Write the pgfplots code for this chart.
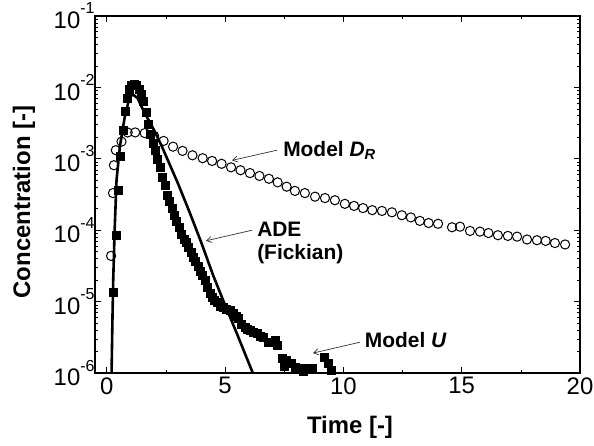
\documentclass[border=0pt]{standalone}
\usepackage{fontspec}
\setmainfont{Liberation Sans}
\usepackage{pgfplots}
\pgfplotsset{compat=1.18}
\usetikzlibrary{arrows.meta}
\newcommand{\dec}[1]{10\raisebox{0.62em}{\fontsize{16}{16}\selectfont #1}}

% model D_R (open circles)
\pgfplotstableread{
t C
0.18 4.37e-5
0.26 3.31e-4
0.30 8.13e-4
0.38 1.32e-3
0.62 1.74e-3
0.88 2.34e-3
1.20 2.34e-3
1.60 2.29e-3
2.00 2.09e-3
2.40 1.78e-3
2.80 1.48e-3
3.20 1.29e-3
3.62 1.12e-3
4.05 1.02e-3
4.45 9.33e-4
4.85 8.51e-4
5.25 7.59e-4
5.65 6.92e-4
6.05 6.31e-4
6.45 5.75e-4
6.85 5.25e-4
7.22 4.68e-4
7.60 4.07e-4
7.95 3.55e-4
8.37 3.31e-4
8.80 2.95e-4
9.22 2.82e-4
9.64 2.63e-4
10.06 2.34e-4
10.45 2.19e-4
10.83 2.04e-4
11.22 1.91e-4
11.63 1.86e-4
12.05 1.78e-4
12.47 1.62e-4
12.85 1.51e-4
13.23 1.35e-4
13.60 1.26e-4
14.00 1.23e-4
14.59 1.10e-4
14.93 1.12e-4
15.35 9.77e-5
15.77 9.55e-5
16.13 9.12e-5
16.53 8.51e-5
16.95 8.32e-5
17.34 8.13e-5
17.76 7.41e-5
18.18 7.24e-5
18.55 7.08e-5
18.94 6.61e-5
19.37 6.31e-5
}\dataDR

% model U (filled squares)
\pgfplotstableread{
t C
0.25 1.35e-5
0.38 8.51e-5
0.50 3.63e-4
0.55 1.10e-3
0.68 2.51e-3
0.76 4.57e-3
0.85 7.08e-3
0.95 9.55e-3
1.05 1.07e-2
1.15 1.12e-2
1.25 1.07e-2
1.35 9.55e-3
1.45 8.13e-3
1.55 6.31e-3
1.65 4.47e-3
1.75 3.02e-3
1.85 2.24e-3
1.95 1.66e-3
2.05 1.32e-3
2.15 1.00e-3
2.25 7.59e-4
2.35 5.50e-4
2.45 4.27e-4
2.55 3.09e-4
2.65 2.51e-4
2.75 2.04e-4
2.85 1.62e-4
2.95 1.35e-4
3.05 1.10e-4
3.15 8.91e-5
3.25 7.59e-5
3.35 6.76e-5
3.45 5.75e-5
3.55 4.90e-5
3.65 4.17e-5
3.75 3.63e-5
3.85 3.16e-5
3.95 2.63e-5
4.05 2.34e-5
4.15 2.00e-5
4.25 1.58e-5
4.35 1.32e-5
4.45 1.15e-5
4.55 1.05e-5
4.65 9.77e-6
4.80 8.71e-6
4.90 8.32e-6
5.05 7.94e-6
5.20 7.59e-6
5.33 6.92e-6
5.45 6.31e-6
5.54 5.89e-6
5.70 4.79e-6
5.84 4.37e-6
5.95 4.17e-6
6.05 3.98e-6
6.20 3.72e-6
6.34 3.63e-6
6.50 3.31e-6
6.60 3.16e-6
6.80 2.69e-6
7.10 2.88e-6
7.19 2.45e-6
7.40 1.62e-6
7.50 1.26e-6
7.60 1.51e-6
7.80 1.38e-6
7.95 1.20e-6
8.16 1.17e-6
8.30 1.05e-6
8.46 1.17e-6
8.70 1.17e-6
9.20 1.66e-6
9.35 1.38e-6
9.50 1.10e-6
10.80 9.33e-7
}\dataU

% ADE (Fickian), solid line
\pgfplotstableread{
t C
0.20 1.0e-6
0.24 6.3e-6
0.27 2.0e-5
0.33 1.0e-4
0.41 5.0e-4
0.55 1.48e-3
0.76 3.89e-3
0.97 7.41e-3
1.10 7.94e-3
1.30 7.08e-3
1.60 4.37e-3
2.00 2.51e-3
2.33 1.48e-3
3.00 4.57e-4
3.50 1.78e-4
4.00 6.61e-5
4.48 2.40e-5
5.00 8.91e-6
5.50 3.55e-6
6.17 1.0e-6
6.30 7.5e-7
}\dataADE

\begin{document}
\begin{tikzpicture}
\begin{axis}[
  scale only axis,
  width=485bp, height=357bp,
  xmin=-0.5, xmax=20,
  ymode=log, ymin=1e-6, ymax=1e-1,
  /pgf/number format/assume math mode=true,
  xtick={0,5,10,15,20},
  minor xtick={2.5,7.5,12.5,17.5},
  xticklabel={\pgfmathprintnumber{\tick}},
  ytick={1e-6,1e-5,1e-4,1e-3,1e-2,1e-1},
  yticklabels={\dec{-6},\dec{-5},\dec{-4},\dec{-3},\dec{-2},\dec{-1}},
  tick align=inside,
  major tick length=6bp, minor tick length=3.5bp,
  axis line style={line width=1.3bp},
  every tick/.style={black, line width=0.7bp},
  ticklabel style={font=\fontsize{24}{24}\selectfont},
  yticklabel style={xshift=3bp},
  xticklabel style={yshift=-1bp},
]
\addplot[only marks, mark=square*, mark size=4bp, black] table[x=t,y=C] {\dataU};
\addplot[only marks, mark=o, mark size=4.6bp, mark options={line width=1bp}, black] table[x=t,y=C] {\dataDR};
\addplot[line width=2.6bp, black] table[x=t,y=C] {\dataADE};

\coordinate (sw) at (rel axis cs:0,0);
\coordinate (ne) at (rel axis cs:1,1);

\node[anchor=west, font=\fontsize{21}{21}\selectfont\bfseries, inner sep=0pt] at (axis cs:7.45,1.32e-3) {Model \textit{D}\textsubscript{\textit{R}}};
\draw[-{Straight Barb[length=5bp,width=6bp]}, line width=0.7bp, black!80] (axis cs:7.19,1.32e-3) -- (axis cs:5.29,9.5e-4);

\node[anchor=north west, align=left, font=\fontsize{21}{23}\selectfont\bfseries, inner sep=0pt] at (axis cs:6.35,1.3e-4) {ADE\\(Fickian)};
\draw[-{Straight Barb[length=5bp,width=6bp]}, line width=0.7bp, black!80] (axis cs:6.14,1.0e-4) -- (axis cs:4.19,7.1e-5);

\node[anchor=west, font=\fontsize{21}{21}\selectfont\bfseries, inner sep=0pt] at (axis cs:10.9,2.9e-6) {Model \textit{U}};
\draw[-{Straight Barb[length=5bp,width=6bp]}, line width=0.7bp, black!80] (axis cs:10.7,2.7e-6) -- (axis cs:8.71,1.9e-6);
\end{axis}
\node[font=\fontsize{24}{24}\selectfont\bfseries] at ([shift={(255bp,-54bp)}]sw) {Time [-]};
\node[rotate=90, font=\fontsize{24}{24}\selectfont\bfseries] at ([shift={(-71bp,171bp)}]sw) {Concentration [-]};
\pgfresetboundingbox
\path ([shift={(-95bp,-73bp)}]sw) rectangle ([shift={(14bp,16bp)}]ne);
\end{tikzpicture}
\end{document}
